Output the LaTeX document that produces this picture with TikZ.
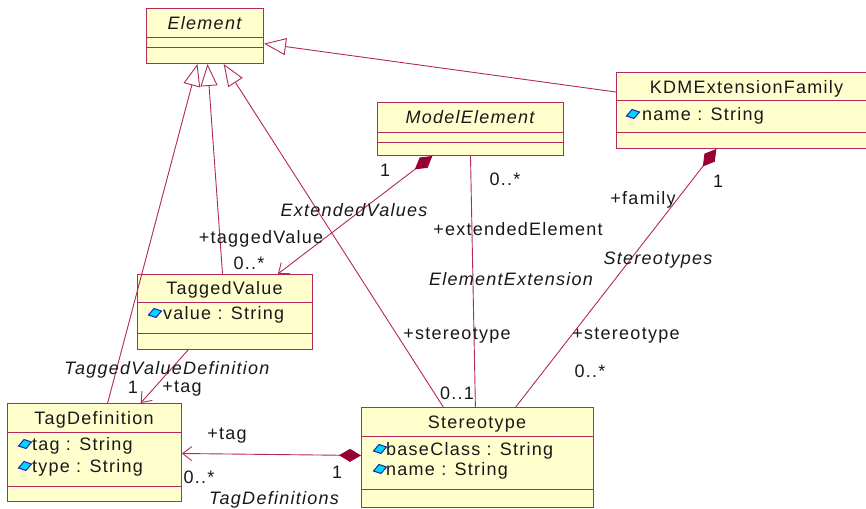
\documentclass[tikz,border=0pt]{standalone}
\usepackage{fontspec}
\setmainfont{Liberation Sans}[LetterSpace=7]
\usetikzlibrary{arrows.meta,calc}

\definecolor{umlline}{RGB}{180,40,90}
\definecolor{umlfill}{RGB}{255,255,206}
\definecolor{umldiamond}{RGB}{150,0,50}
\definecolor{umltext}{RGB}{25,25,25}
\definecolor{attrfill}{RGB}{0,215,255}
\definecolor{attrline}{RGB}{20,40,170}

\tikzset{
  classbox/.style={draw=umlline, fill=umlfill, line width=1pt, rectangle,
    inner sep=0pt, anchor=north west},
  sep/.style={draw=umlline, line width=1pt},
  txt/.style={font=\fontsize{18}{20}\selectfont, text=umltext, inner sep=0pt,
    text height=12.9pt, text depth=0pt},
  itxt/.style={txt, font=\fontsize{18}{20}\selectfont\itshape},
  attr/.style={txt, anchor=west},
  link/.style={draw=umlline, line width=0.9pt},
  gen/.style={link, -{Triangle[length=22pt, width=17pt, fill=white, line width=0.9pt]}},
  nav/.style={link, -{Straight Barb[length=9pt, width=14pt, line width=0.9pt]}},
  comp/.style={link, {Diamond[length=22pt, width=13pt, fill=umldiamond, color=umldiamond]}-{Straight Barb[length=9pt, width=14pt, line width=0.9pt]}},
  compplain/.style={link, {Diamond[length=22pt, width=13pt, fill=umldiamond, color=umldiamond]}-},
}

% small attribute marker: a tilted cyan rhombus
\newcommand{\attrmark}[1]{%
  \fill[attrfill, draw=attrline, line width=1pt]
    ($(#1)+(-6.5,2)$) -- ($(#1)+(-1,-4.5)$) -- ($(#1)+(6.5,-2)$) -- ($(#1)+(1,4.5)$) -- cycle;}

\begin{document}
\begin{tikzpicture}[x=1pt, y=-1pt]
  \clip (0,0) rectangle (866,508);
  \fill[white] (0,0) rectangle (866,508);

  % ---- classes ----
  \node[classbox, minimum width=117pt, minimum height=55pt] (el) at (146,8) {};
  \draw[sep] ($(el.north west)+(0,30)$) -- ($(el.north east)+(0,30)$);
  \draw[sep] ($(el.north west)+(0,40)$) -- ($(el.north east)+(0,40)$);
  \node[itxt] (elname) at (204.5,23) {Element};

  \node[classbox, minimum width=261pt, minimum height=76pt] (kdm) at (616,72) {};
  \draw[sep] ($(kdm.north west)+(0,29)$) -- ($(kdm.north east)+(0,29)$);
  \draw[sep] ($(kdm.north west)+(0,60)$) -- ($(kdm.north east)+(0,60)$);
  \node[txt] (kdmname) at (746.5,87) {KDMExtensionFamily};
  \coordinate (kdmicon) at (633,114);
  \attrmark{kdmicon}
  \node[attr] (kdmattr) at (642,114) {name : String};

  \node[classbox, minimum width=186pt, minimum height=53pt] (me) at (377,102) {};
  \draw[sep] ($(me.north west)+(0,30)$) -- ($(me.north east)+(0,30)$);
  \draw[sep] ($(me.north west)+(0,40)$) -- ($(me.north east)+(0,40)$);
  \node[itxt] (mename) at (470,117) {ModelElement};

  \node[classbox, minimum width=175pt, minimum height=75pt] (tv) at (137,274) {};
  \draw[sep] ($(tv.north west)+(0,28)$) -- ($(tv.north east)+(0,28)$);
  \draw[sep] ($(tv.north west)+(0,59)$) -- ($(tv.north east)+(0,59)$);
  \node[txt] (tvname) at (224.5,288) {TaggedValue};
  \coordinate (tvicon) at (155,313);
  \attrmark{tvicon}
  \node[attr] (tvattr) at (163,313) {value : String};

  \node[classbox, minimum width=174pt, minimum height=98pt] (td) at (7,403) {};
  \draw[sep] ($(td.north west)+(0,29)$) -- ($(td.north east)+(0,29)$);
  \draw[sep] ($(td.north west)+(0,83)$) -- ($(td.north east)+(0,83)$);
  \node[txt] (tdname) at (94,418) {TagDefinition};
  \coordinate (tdicon1) at (25,444);
  \attrmark{tdicon1}
  \node[attr] (tdattr1) at (32,444) {tag : String};
  \coordinate (tdicon2) at (25,466);
  \attrmark{tdicon2}
  \node[attr] (tdattr2) at (32,466) {type : String};

  \node[classbox, minimum width=232pt, minimum height=100pt] (st) at (361,407) {};
  \draw[sep] ($(st.north west)+(0,29)$) -- ($(st.north east)+(0,29)$);
  \draw[sep] ($(st.north west)+(0,82)$) -- ($(st.north east)+(0,82)$);
  \node[txt] (stname) at (477,422) {Stereotype};
  \coordinate (sticon1) at (380,449);
  \attrmark{sticon1}
  \node[attr] (stattr1) at (386,449) {baseClass : String};
  \coordinate (sticon2) at (380,469);
  \attrmark{sticon2}
  \node[attr] (stattr2) at (386,469) {name : String};

  % ---- connection points ----
  \coordinate (el-g1) at ($(el.south west)!0.436!(el.south east)$);
  \coordinate (el-g2) at ($(el.south west)!0.521!(el.south east)$);
  \coordinate (el-g3) at ($(el.south west)!0.658!(el.south east)$);
  \coordinate (el-g4) at ($(el.north east)!0.636!(el.south east)$);
  \coordinate (kdm-l) at ($(kdm.north west)!0.26!(kdm.south west)$);
  \coordinate (kdm-b) at ($(kdm.south west)!0.383!(kdm.south east)$);
  \coordinate (me-d) at ($(me.south west)!0.296!(me.south east)$);
  \coordinate (me-a) at ($(me.south west)!0.5!(me.south east)$);
  \coordinate (tv-t) at ($(tv.north west)!0.486!(tv.north east)$);
  \coordinate (tv-a) at ($(tv.north west)!0.8!(tv.north east)$);
  \coordinate (tv-b) at ($(tv.south west)!0.29!(tv.south east)$);
  \coordinate (td-t) at ($(td.north west)!0.575!(td.north east)$);
  \coordinate (td-a) at ($(td.north west)!0.764!(td.north east)$);
  \coordinate (td-r) at ($(td.north east)!0.51!(td.south east)$);
  \coordinate (st-t1) at ($(st.north west)!0.353!(st.north east)$);
  \coordinate (st-t2) at ($(st.north west)!0.491!(st.north east)$);
  \coordinate (st-t3) at ($(st.north west)!0.664!(st.north east)$);
  \coordinate (st-l) at ($(st.north west)!0.48!(st.south west)$);

  % ---- generalizations ----
  \draw[gen] (td-t) -- (el-g1);
  \draw[gen] (tv-t) -- (el-g2);
  \draw[gen] (st-t1) -- (el-g3);
  \draw[gen] (kdm-l) -- (el-g4);

  % ---- associations ----
  \draw[comp] (me-d) -- (tv-a);
  \draw[link] (me-a) -- (st-t2);
  \draw[compplain] (kdm-b) -- (st-t3);
  \draw[nav] (tv-b) -- (td-a);
  \draw[comp] (st-l) -- (td-r);

  % ---- association labels ----
  \node[txt] (l1) at (385,170) {1};
  \node[txt] (l2) at (505,179) {0..*};
  \node[itxt] (l3) at (354,210) {ExtendedValues};
  \node[txt] (l4) at (261,237) {+taggedValue};
  \node[txt] (l5) at (249,263) {0..*};
  \node[txt] (l6) at (518,229) {+extendedElement};
  \node[itxt] (l7) at (511,279) {ElementExtension};
  \node[txt] (l8) at (643,198) {+family};
  \node[txt] (l9) at (718,181) {1};
  \node[itxt] (l10) at (658,258) {Stereotypes};
  \node[txt] (l11) at (457,333) {+stereotype};
  \node[txt] (l12) at (626,333) {+stereotype};
  \node[txt] (l13) at (590,371) {0..*};
  \node[txt] (l14) at (457,393) {0..1};
  \node[itxt] (l15) at (167,368) {TaggedValueDefinition};
  \node[txt] (l16) at (133,387) {1};
  \node[txt] (l17) at (182,386) {+tag};
  \node[txt] (l18) at (227,433) {+tag};
  \node[txt] (l19) at (199,477) {0..*};
  \node[txt] (l20) at (337,472) {1};
  \node[itxt] (l21) at (274,498) {TagDefinitions};
\end{tikzpicture}
\end{document}
